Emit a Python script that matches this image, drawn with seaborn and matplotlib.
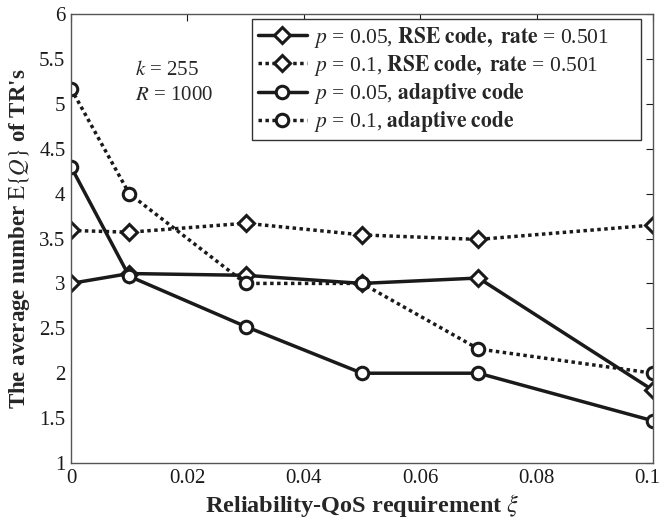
import matplotlib
matplotlib.use("Agg")
import matplotlib.pyplot as plt
import matplotlib.transforms as mtransforms
import seaborn as sns
import pandas as pd

xi = [0, 0.01, 0.03, 0.05, 0.07, 0.1]
rse_p005 = [3.00, 3.11, 3.09, 3.00, 3.06, 1.81]
rse_p01 = [3.59, 3.57, 3.67, 3.54, 3.49, 3.65]
ada_p005 = [4.30, 3.08, 2.52, 2.00, 2.00, 1.47]
ada_p01 = [5.17, 4.00, 3.00, 3.00, 2.27, 2.00]

labels = [
    r"$p$ = 0.05, $\mathbf{RSE\ code,\ rate}$ = 0.501",
    r"$p$ = 0.1, $\mathbf{RSE\ code,\ rate}$ = 0.501",
    r"$p$ = 0.05, $\mathbf{adaptive\ code}$",
    r"$p$ = 0.1, $\mathbf{adaptive\ code}$",
]
xtick_labels = ["0", "0.02", "0.04", "0.06", "0.08", "0.1"]
ytick_labels = ["1", "1.5", "2", "2.5", "3", "3.5", "4", "4.5", "5", "5.5", "6"]
series = [rse_p005, rse_p01, ada_p005, ada_p01]
markers = ["D", "D", "o", "o"]
styles = ["-", (0, (1, 1)), "-", (0, (1, 1))]
msizes = [8, 8, 9, 9]

sns.set_theme(style="white")
plt.rcParams["font.family"] = ["Liberation Serif", "DejaVu Serif"]
plt.rcParams["mathtext.fontset"] = "stix"

fig = plt.figure(figsize=(6.59, 5.23), dpi=100)
ax = fig.add_axes([0.1077, 0.1147, 0.8833, 0.8585])

for vals, lab, mk, ls, ms in zip(series, labels, markers, styles, msizes):
    df = pd.DataFrame({"xi": xi, "val": vals})
    sns.lineplot(data=df, x="xi", y="val", ax=ax, color="#1a1a1a", linewidth=2.5,
                 linestyle=ls, marker=mk, markersize=ms, markerfacecolor="white",
                 markeredgecolor="#1a1a1a", markeredgewidth=2.2, label=lab)

ax.set_xlim(0, 0.1)
ax.set_ylim(1, 6)
ax.set_xticks([float(t) for t in xtick_labels])
ax.set_xticklabels(xtick_labels)
ax.set_yticks([float(t) for t in ytick_labels])
ax.set_yticklabels(ytick_labels)
ax.tick_params(direction="in", length=5, width=0.8, top=True, right=True,
               labelsize=15, colors="#1a1a1a", pad=4)
last = ax.get_xticklabels()[-1]
last.set_transform(last.get_transform() + mtransforms.ScaledTranslation(-6/100, 0, fig.dpi_scale_trans))
for sp in ax.spines.values():
    sp.set_color("#555555")
    sp.set_linewidth(1.0)

ax.set_xlabel(r"Reliability-QoS requirement $\xi$", fontsize=17.5, fontweight="bold", labelpad=3)
ax.set_ylabel(r"The average number $\mathrm{E}\{Q\}$ of TR's", fontsize=16.5, fontweight="bold", labelpad=5)

ax.text(0.011, 5.376, r"$k$ = 255", fontsize=15, va="center")
ax.text(0.011, 5.098, r"$R$ = 1000", fontsize=15, va="center")

leg = ax.legend(loc="upper left", bbox_to_anchor=(0.3115, 0.0, 0.6675, 0.988),
                mode="expand", fontsize=15.5,
                frameon=True, fancybox=False, edgecolor="#333333", framealpha=1,
                borderpad=0.25, labelspacing=0.15, handlelength=2.3,
                handletextpad=0.3, borderaxespad=0.0)
leg.get_frame().set_linewidth(1.0)

fig.savefig("out.png", dpi=100)
